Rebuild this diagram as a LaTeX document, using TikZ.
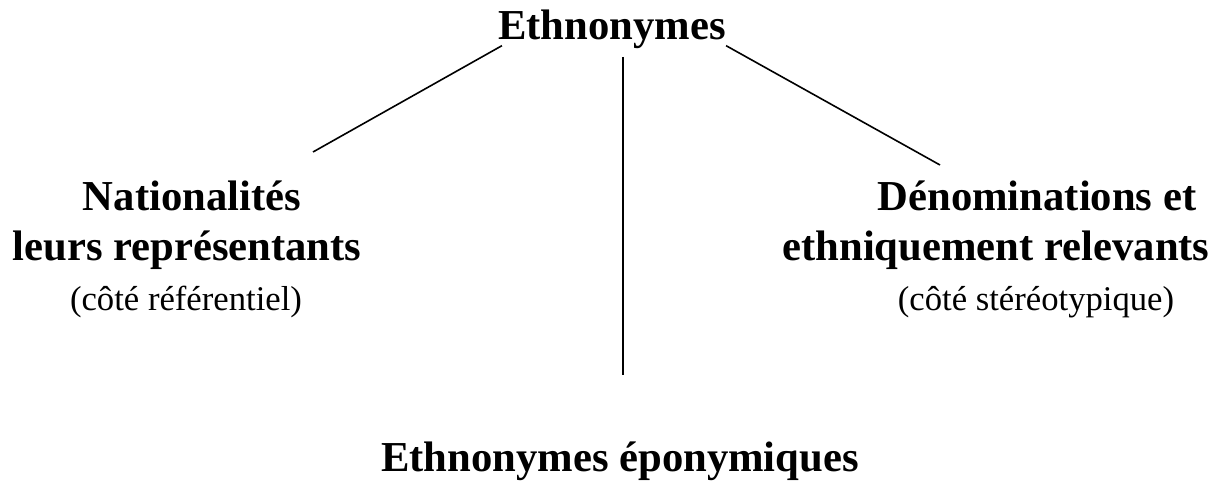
\documentclass[tikz,border=0pt]{standalone}
\usepackage{fontspec}
\setmainfont{Liberation Serif}
\usepackage{tikz}
\usetikzlibrary{positioning}

\begin{document}
\begin{tikzpicture}[x=0.75pt,y=-0.75pt,
    head/.style={font=\fontsize{32}{36}\selectfont\bfseries,inner sep=0pt},
    side/.style={font=\fontsize{26}{30}\selectfont,inner sep=0pt},
    link/.style={line width=1.2pt}]
    \useasboundingbox (0,0) rectangle (1220,502);

    \node[head] (top) at (612,29) {Ethnonymes};
    \node[head] (nat) at (192,196) {Nationalités};
    \node[head] (rep) at (187,250) {leurs représentants};
    \node[side] (ref) at (186,302) {(côté référentiel)};
    \node[head] (den) at (1037,196) {Dénominations et};
    \node[head] (eth) at (996,250) {ethniquement relevants};
    \node[side] (ste) at (1036,302) {(côté stéréotypique)};
    \node[head] (epo) at (620,461) {Ethnonymes éponymiques};

    % line ends
    \coordinate (natend) at (313,152);
    \coordinate (denend) at (940,165);
    \coordinate (midtop) at (623,57);
    \coordinate (midend) at (623,375);

    \draw[link] (top.south west) ++(4,-3) coordinate (topl) -- (natend);
    \draw[link] (top.south east) ++(0,-3) coordinate (topr) -- (denend);
    \draw[link] (midtop) -- (midend);
\end{tikzpicture}
\end{document}
